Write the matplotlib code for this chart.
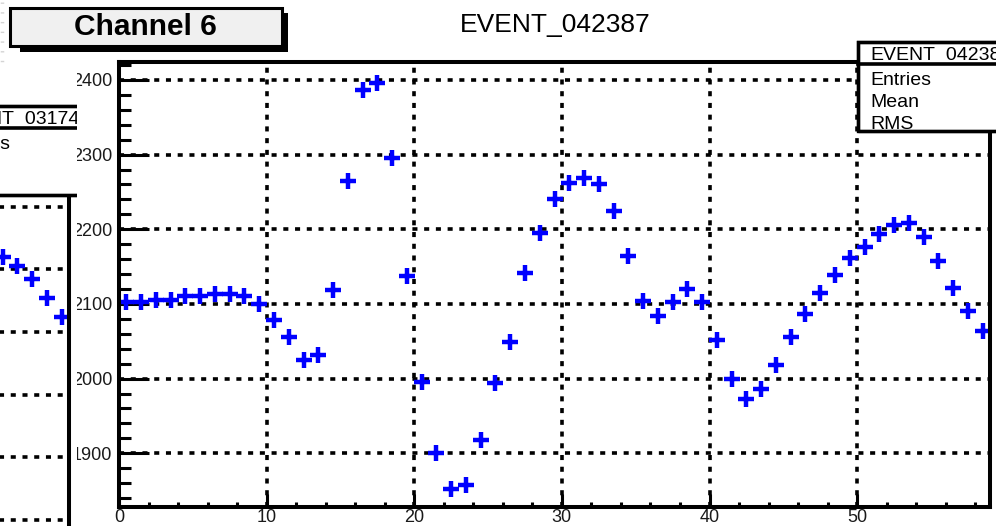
import numpy as np
import matplotlib
matplotlib.use("Agg")
import matplotlib.pyplot as plt
from matplotlib.patches import Rectangle
from matplotlib.lines import Line2D
from matplotlib.transforms import Bbox, TransformedBbox

plt.rcParams['font.family'] = ['Liberation Sans', 'DejaVu Sans']

# data
title = "EVENT_042387"
pad_title = "Channel 6"
n_bins = 59
main_vals = [2103, 2103, 2105, 2105, 2110, 2110, 2113, 2113, 2110, 2100,
             2079, 2056, 2025, 2032, 2118, 2265, 2387, 2396, 2296, 2137,
             1995, 1900, 1852, 1858, 1918, 1994, 2049, 2142, 2195, 2240,
             2262, 2269, 2260, 2224, 2164, 2104, 2084, 2103, 2120, 2103,
             2052, 2000, 1972, 1986, 2018, 2056, 2087, 2115, 2139, 2162,
             2176, 2193, 2206, 2208, 2190, 2157, 2121, 2090, 2064]
x_ticks = [0, 10, 20, 30, 40, 50]
y_ticks = [1900, 2000, 2100, 2200, 2300, 2400]
stats_rows = ["Entries", "Mean", "RMS"]

# neighbour pad (only its right edge is visible)
left_title = "EVENT_03174"
left_bins = [54, 55, 56, 57, 58]
left_vals = [2119, 2105, 2085, 2054, 2024]
left_y_ticks = [1700, 1800, 1900, 2000, 2100, 2200]

W, H = 996, 526
fig = plt.figure(figsize=(W / 100, H / 100), dpi=100)


def fr(x0, y0, x1, y1):
    # pixel box -> figure fraction [l, b, w, h]
    return [x0 / W, 1 - y1 / H, (x1 - x0) / W, (y1 - y0) / H]


def pclip(x0, y0, x1, y1):
    return TransformedBbox(Bbox([[x0 / W, 1 - y1 / H], [x1 / W, 1 - y0 / H]]), fig.transFigure)


def prect(x0, y0, x1, y1, clip=None, **kw):
    l, b, w, h = fr(x0, y0, x1, y1)
    p = Rectangle((l, b), w, h, transform=fig.transFigure, **kw)
    if clip is not None:
        p.set_clip_box(clip)
        p.set_clip_on(True)
    fig.add_artist(p)
    return p


def pline(xs, ys, clip=None, **kw):
    ln = Line2D([x / W for x in xs], [1 - y / H for y in ys], transform=fig.transFigure, **kw)
    if clip is not None:
        ln.set_clip_box(clip)
        ln.set_clip_on(True)
    fig.add_artist(ln)
    return ln


dots = (0, (1.4, 1.85))
blue = '#0000ff'


def style_axes(a):
    for s in a.spines.values():
        s.set_linewidth(2.9)
    a.grid(True, which='major', color='black', linestyle=dots, linewidth=2.6)
    a.set_axisbelow(True)
    a.tick_params(axis='y', which='major', direction='in', length=21.6, width=2.2,
                  pad=5, labelsize=13, labelcolor='#1a1a1a', right=False)
    a.tick_params(axis='y', which='minor', direction='in', length=8.6, width=2.2, right=False)
    a.tick_params(axis='x', which='major', direction='in', length=9.4, width=2.2,
                  pad=1.5, labelsize=13, labelcolor='#1a1a1a', top=False)
    a.tick_params(axis='x', which='minor', direction='in', length=3.6, width=2.2, top=False)


# left (neighbour) pad
ax2 = fig.add_axes(fr(-802, 126, 69, 571))
ax2.plot(np.array(left_bins) + 0.5, left_vals, linestyle='none', marker='+',
         ms=11, mew=3.2, color=blue)
ax2.set_xlim(0, n_bins)
ax2.set_ylim(1618.7, 2328.7)
ax2.set_yticks(left_y_ticks)
ax2.set_xticks(x_ticks)
style_axes(ax2)

# main pad
ax = fig.add_axes(fr(119, 62, 990, 507))
ax.plot(np.arange(n_bins) + 0.5, main_vals, linestyle='none', marker='+',
        ms=11, mew=3.2, color=blue)
ax.set_xlim(0, n_bins)
ax.set_ylim(1828, 2424)
ax.set_xticks(x_ticks)
ax.set_yticks(y_ticks)
ax.set_xticks(np.arange(0, n_bins, 2), minor=True)
ax.set_yticks(np.arange(1840, 2424, 20), minor=True)
style_axes(ax)

# y labels are cut by the pad edge
label_clip = pclip(77, 0, W, H)
for t in ax.get_yticklabels():
    t.set_clip_box(label_clip)
    t.set_clip_on(True)

# stats boxes
for dx, dy, name in [(0, 0, title), (-921, 64, left_title)]:
    x0, x1 = 858 + dx, 999 + dx + (12 if dx else 0)
    y0, y1 = 42 + dy, 131 + dy
    box_clip = pclip(x0 - 5, y0 - 5, 77 if dx else W, y1 + 5)
    prect(x0, y0, x1, y1, clip=box_clip, facecolor='white', edgecolor='black',
          linewidth=2.4, zorder=1)
    t = fig.text((870 + dx) / W, 1 - (60 + dy) / H, name, fontsize=14, va='baseline',
                 ha='left', zorder=3)
    t.set_clip_box(box_clip)
    t.set_clip_on(True)
    pline([x0, x1], [64 + dy, 64 + dy], clip=box_clip, color='black', linewidth=2.6, zorder=4)
    for i, row in enumerate(stats_rows):
        r = fig.text((870 + dx) / W, 1 - (85 + 22 * i + dy) / H, row, fontsize=14,
                     va='baseline', ha='left', zorder=3)
        r.set_clip_box(box_clip)
        r.set_clip_on(True)
    prect(x0, y0, x1, y1, clip=box_clip, facecolor='none', edgecolor='black',
          linewidth=2.4, zorder=5)

# pad title box with shadow
prect(20, 13, 288, 52, facecolor='black', edgecolor='black', linewidth=0, zorder=1)
prect(10, 8, 282, 46, facecolor='#f0f0f0', edgecolor='black', linewidth=2.2, zorder=2)
fig.text(145 / W, 1 - 27 / H, pad_title, fontsize=21.5, fontweight='bold',
         ha='center', va='center', zorder=3)

# histogram title
fig.text(555 / W, 1 - 25 / H, title, fontsize=19, ha='center', va='center')

# faint remains of another pad at the far left
pline([1.5, 1.5], [2, 66], color='#d4d4d4', linewidth=2.5, linestyle=(0, (0.4, 2.4)))

fig.savefig("out.png", dpi=100)
